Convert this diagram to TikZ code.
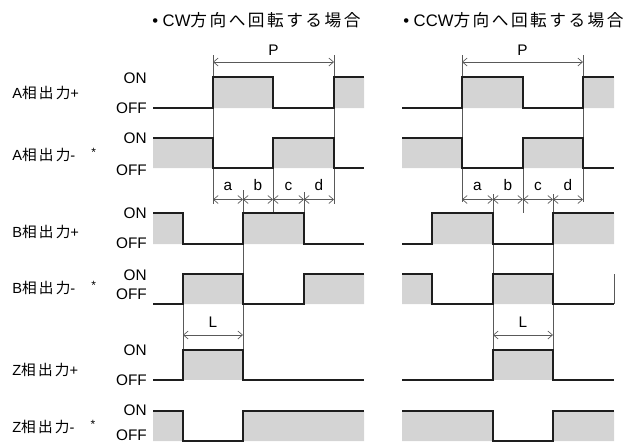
\documentclass[tikz,border=0pt]{standalone}
\usepackage{fontspec}
\setmainfont{Liberation Sans}
\newfontfamily\jpfont[LetterSpace=15]{Noto Sans CJK JP}
\usetikzlibrary{arrows.meta}
\definecolor{sigfill}{RGB}{212,212,212}
\definecolor{sigline}{RGB}{30,30,30}
\newcommand{\jp}[1]{{\jpfont #1}}
\newcommand{\negtag}{-\hspace{12pt}\raisebox{3.5pt}{\fontsize{9}{9}\selectfont *}}
\tikzset{
	wave/.style={sigline, line width=1.1pt},
	hi/.style={fill=sigfill},
	guide/.style={black!65, line width=0.5pt},
	dim/.style={guide, {Straight Barb[length=3.5pt,width=6pt]}-{Straight Barb[length=3.5pt,width=6pt]}},
	lvl/.style={anchor=east, inner sep=0pt, font=\fontsize{11.5}{13}\selectfont},
	sig/.style={anchor=west, inner sep=0pt, font=\fontsize{11}{13}\selectfont},
	head/.style={anchor=west, inner sep=0pt, font=\fontsize{12.5}{14}\selectfont},
	tag/.style={anchor=base, inner sep=0pt, font=\fontsize{11.5}{13}\selectfont},
}

\begin{document}
\begin{tikzpicture}[x=0.75pt, y=-0.75pt]

	\useasboundingbox (0,0) rectangle (633,444);

	\node[head] (cw) at (152,20) {\textbullet\ CW\jp{方向へ回転する場合}};
	\node[head] (ccw) at (403,20) {\textbullet\ CCW\jp{方向へ回転する場合}};

	\node[sig] (ap) at (12,93) {A\jp{相出力}+};
	\node[sig] (an) at (12,155) {A\jp{相出力}\negtag};
	\node[sig] (bp) at (12,232) {B\jp{相出力}+};
	\node[sig] (bn) at (12,288) {B\jp{相出力}\negtag};
	\node[sig] (zp) at (12,370) {Z\jp{相出力}+};
	\node[sig] (zn) at (12,427) {Z\jp{相出力}\negtag};

	\node[lvl] (ap-on) at (147,78) {ON};
	\node[lvl] (ap-off) at (147,108) {OFF};
	\node[lvl] (an-on) at (147,138) {ON};
	\node[lvl] (an-off) at (147,170) {OFF};
	\node[lvl] (bp-on) at (147,213) {ON};
	\node[lvl] (bp-off) at (147,243) {OFF};
	\node[lvl] (bn-on) at (147,275) {ON};
	\node[lvl] (bn-off) at (147,294) {OFF};
	\node[lvl] (zp-on) at (147,350) {ON};
	\node[lvl] (zp-off) at (147,380) {OFF};
	\node[lvl] (zn-on) at (147,410) {ON};
	\node[lvl] (zn-off) at (147,435.5) {OFF};

	\fill[hi] (213,77) rectangle (273,108) (334,77) rectangle (364,108);
	\fill[hi] (153,138) rectangle (213,168) (273,138) rectangle (334,168);
	\fill[hi] (153,213) rectangle (183,244) (243,213) rectangle (304,244);
	\fill[hi] (183,274) rectangle (243,304) (304,274) rectangle (364,304);
	\fill[hi] (183,350) rectangle (243,380);
	\fill[hi] (153,411) rectangle (183,441) (243,411) rectangle (364,441);

	\fill[hi] (462,77) rectangle (523,108) (583,77) rectangle (614,108);
	\fill[hi] (402,138) rectangle (462,168) (523,138) rectangle (583,168);
	\fill[hi] (432,213) rectangle (493,244) (553,213) rectangle (614,244);
	\fill[hi] (402,274) rectangle (432,304) (493,274) rectangle (553,304);
	\fill[hi] (493,350) rectangle (553,380);
	\fill[hi] (402,411) rectangle (493,441) (553,411) rectangle (614,441);

	\draw[guide] (213,55) -- (213,204) (334,55) -- (334,204);
	\draw[guide] (273,168) -- (273,213) (304,192) -- (304,213);
	\draw[guide] (243,190) -- (243,380) (183,304) -- (183,350);
	\draw[guide] (462,55) -- (462,202) (583,55) -- (583,202);
	\draw[guide] (493,194) -- (493,350) (523,168) -- (523,213);
	\draw[guide] (553,194) -- (553,350) (614,274) -- (614,304);

	\draw[wave] (153,108) -- (213,108) -- (213,77) -- (273,77) -- (273,108) -- (334,108) -- (334,77) -- (364,77);
	\draw[wave] (153,138) -- (213,138) -- (213,168) -- (273,168) -- (273,138) -- (334,138) -- (334,168) -- (364,168);
	\draw[wave] (153,213) -- (183,213) -- (183,244) -- (243,244) -- (243,213) -- (304,213) -- (304,244) -- (364,244);
	\draw[wave] (153,304) -- (183,304) -- (183,274) -- (243,274) -- (243,304) -- (304,304) -- (304,274) -- (364,274);
	\draw[wave] (153,380) -- (183,380) -- (183,350) -- (243,350) -- (243,380) -- (364,380);
	\draw[wave] (153,411) -- (183,411) -- (183,441) -- (243,441) -- (243,411) -- (364,411);

	\draw[wave] (402,108) -- (462,108) -- (462,77) -- (523,77) -- (523,108) -- (583,108) -- (583,77) -- (614,77);
	\draw[wave] (402,138) -- (462,138) -- (462,168) -- (523,168) -- (523,138) -- (583,138) -- (583,168) -- (614,168);
	\draw[wave] (402,244) -- (432,244) -- (432,213) -- (493,213) -- (493,244) -- (553,244) -- (553,213) -- (614,213);
	\draw[wave] (402,274) -- (432,274) -- (432,304) -- (493,304) -- (493,274) -- (553,274) -- (553,304) -- (614,304);
	\draw[wave] (402,380) -- (493,380) -- (493,350) -- (553,350) -- (553,380) -- (614,380);
	\draw[wave] (402,411) -- (493,411) -- (493,441) -- (553,441) -- (553,411) -- (614,411);

	\coordinate (pl1) at (213,62);
	\coordinate (pl2) at (334,62);
	\coordinate (pr1) at (462,62);
	\coordinate (pr2) at (583,62);
	\draw[dim] (pl1) -- (pl2);
	\draw[dim] (pr1) -- (pr2);
	\node[tag] (pl) at (273.5,55) {P};
	\node[tag] (pr) at (522.5,55) {P};

	\coordinate (ql0) at (213,199.5);
	\coordinate (ql1) at (243,199.5);
	\coordinate (ql2) at (273,199.5);
	\coordinate (ql3) at (304,199.5);
	\coordinate (ql4) at (334,199.5);
	\draw[dim] (ql0) -- (ql1);
	\draw[dim] (ql1) -- (ql2);
	\draw[dim] (ql2) -- (ql3);
	\draw[dim] (ql3) -- (ql4);
	\node[tag] (al) at (228,190) {a};
	\node[tag] (bl) at (258,190) {b};
	\node[tag] (cl) at (288.5,190) {c};
	\node[tag] (dl) at (319,190) {d};

	\coordinate (qr0) at (462,199.5);
	\coordinate (qr1) at (493,199.5);
	\coordinate (qr2) at (523,199.5);
	\coordinate (qr3) at (553,199.5);
	\coordinate (qr4) at (583,199.5);
	\draw[dim] (qr0) -- (qr1);
	\draw[dim] (qr1) -- (qr2);
	\draw[dim] (qr2) -- (qr3);
	\draw[dim] (qr3) -- (qr4);
	\node[tag] (ar) at (477.5,190) {a};
	\node[tag] (br) at (508,190) {b};
	\node[tag] (cr) at (538,190) {c};
	\node[tag] (dr) at (568,190) {d};

	\coordinate (ll1) at (183,335);
	\coordinate (ll2) at (243,335);
	\coordinate (lr1) at (493,335);
	\coordinate (lr2) at (553,335);
	\draw[dim] (ll1) -- (ll2);
	\draw[dim] (lr1) -- (lr2);
	\node[tag] (ll) at (213,327) {L};
	\node[tag] (lr) at (523,327) {L};

\end{tikzpicture}
\end{document}
